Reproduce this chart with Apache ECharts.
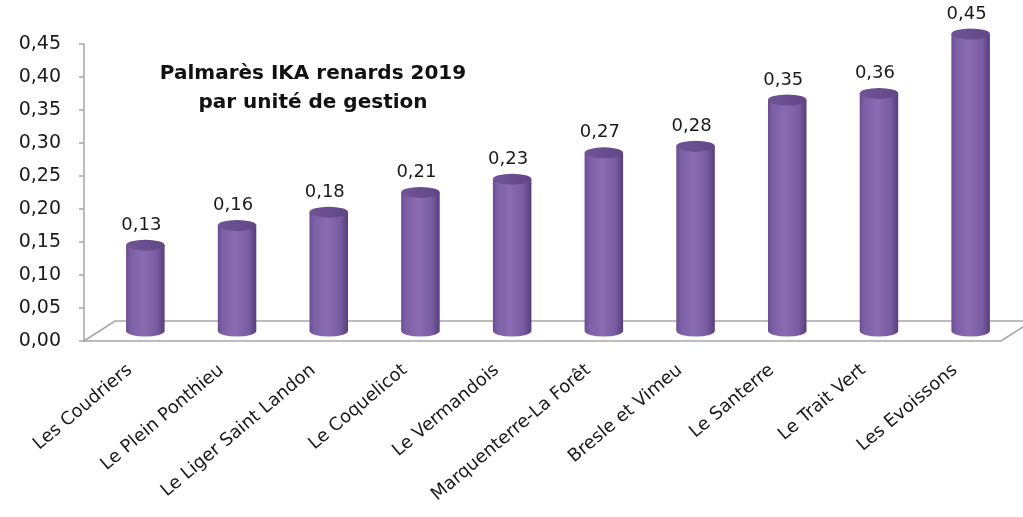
<!DOCTYPE html>
<html>
<head>
<meta charset="utf-8">
<script src="https://cdn.jsdelivr.net/npm/echarts@6/dist/echarts.min.js"></script>
<style>
  html, body { margin: 0; padding: 0; background: #fff; }
  #main { width: 1023px; height: 517px; }
</style>
</head>
<body>
<div id="main"></div>
<script>
// données
var categories = ['Les Coudriers', 'Le Plein Ponthieu', 'Le Liger Saint Landon', 'Le Coquelicot', 'Le Vermandois',
  'Marquenterre-La Forêt', 'Bresle et Vimeu', 'Le Santerre', 'Le Trait Vert', 'Les Evoissons'];
var ika = [0.13, 0.16, 0.18, 0.21, 0.23, 0.27, 0.28, 0.35, 0.36, 0.45];
var yTicks = [0, 0.05, 0.10, 0.15, 0.20, 0.25, 0.30, 0.35, 0.40, 0.45];

var DEPTH_X = 31, DEPTH_Y = -20;   // profondeur du "plancher" 3D
var lineColor = '#a6a6a6';
var font = 'DejaVu Sans';

function fr(v) { return v.toFixed(2).replace('.', ','); }

var myChart = echarts.init(document.getElementById('main'));

// cylindre : corps + ellipse du dessus + étiquette
function renderCylinder(params, api) {
  var idx = api.value(0), val = api.value(1);
  var top = api.coord([idx, val]);
  var base = api.coord([idx, 0]);
  var cx = top[0] + DEPTH_X / 2;
  var ty = top[1] + DEPTH_Y / 2;
  var by = base[1] + DEPTH_Y / 2;
  var rx = api.size([1, 0])[0] * 0.21;
  var ry = 5.5;
  var x1 = cx - rx, x2 = cx + rx;
  var body = 'M' + x1 + ' ' + ty + ' L' + x1 + ' ' + by +
    ' A' + rx + ' ' + ry + ' 0 0 0 ' + x2 + ' ' + by +
    ' L' + x2 + ' ' + ty + ' Z';
  var cap = 'M' + x1 + ' ' + ty + ' A' + rx + ' ' + ry + ' 0 1 0 ' + x2 + ' ' + ty +
    ' A' + rx + ' ' + ry + ' 0 1 0 ' + x1 + ' ' + ty + ' Z';
  return {
    type: 'group',
    children: [
      {
        type: 'path',
        shape: { pathData: body },
        style: {
          fill: new echarts.graphic.LinearGradient(0, 0, 1, 0, [
            { offset: 0, color: '#6a4d91' },
            { offset: 0.12, color: '#7d5fa6' },
            { offset: 0.45, color: '#8a6cb3' },
            { offset: 0.8, color: '#785ba1' },
            { offset: 1, color: '#573e7b' }
          ])
        }
      },
      {
        type: 'path',
        shape: { pathData: cap },
        style: {
          fill: new echarts.graphic.LinearGradient(0, 0, 1, 0, [
            { offset: 0, color: '#6f5496' },
            { offset: 1, color: '#614788' }
          ])
        }
      },
      {
        type: 'text',
        style: {
          text: fr(val),
          x: cx - 4,
          y: ty - 11,
          align: 'center',
          verticalAlign: 'bottom',
          fill: '#1a1a1a',
          font: '18px "' + font + '"'
        }
      }
    ]
  };
}

// plancher 3D (arrière + côtés)
function renderFloor(params, api) {
  var cs = params.coordSys;
  var fy = cs.y + cs.height;
  var lx = cs.x, rxp = cs.x + cs.width;
  return {
    type: 'polyline',
    shape: {
      points: [[lx, fy], [lx + DEPTH_X, fy + DEPTH_Y], [rxp + DEPTH_X, fy + DEPTH_Y], [rxp, fy]]
    },
    style: { stroke: lineColor, lineWidth: 1.5, fill: null }
  };
}

var option = {
  animation: false,
  title: {
    text: 'Palmarès IKA renards 2019\npar unité de gestion',
    left: 308,
    top: 54,
    textAlign: 'center',
    textStyle: { fontFamily: font, fontWeight: 'bold', fontSize: 20, lineHeight: 29, color: '#111' }
  },
  grid: { left: 84, right: 22, top: 44, bottom: 176 },
  xAxis: {
    type: 'category',
    data: categories,
    axisLine: { lineStyle: { color: lineColor, width: 1.5 } },
    axisTick: { length: 5, lineStyle: { color: lineColor, width: 1.5 } },
    axisLabel: { rotate: 40, margin: 27, color: '#1a1a1a', fontSize: 18, fontFamily: font, interval: 0 }
  },
  yAxis: {
    type: 'value',
    min: 0,
    max: 0.45,
    interval: 0.05,
    axisLine: { show: true, lineStyle: { color: lineColor, width: 1.5 } },
    axisTick: { show: true, length: 5, lineStyle: { color: lineColor, width: 1.5 } },
    splitLine: { show: false },
    axisLabel: {
      margin: 23,
      color: '#1a1a1a',
      fontSize: 19,
      fontFamily: font,
      formatter: function (v) {
        for (var i = 0; i < yTicks.length; i++) {
          if (Math.abs(yTicks[i] - v) < 1e-9) return fr(yTicks[i]);
        }
        return '';
      }
    }
  },
  series: [
    {
      type: 'custom',
      renderItem: renderFloor,
      data: [[0, 0]],
      silent: true,
      z: 1
    },
    {
      type: 'custom',
      renderItem: renderCylinder,
      encode: { x: 0, y: 1 },
      data: ika.map(function (v, i) { return [i, v]; }),
      clip: false,
      z: 2
    }
  ]
};

myChart.setOption(option);
</script>
</body>
</html>
